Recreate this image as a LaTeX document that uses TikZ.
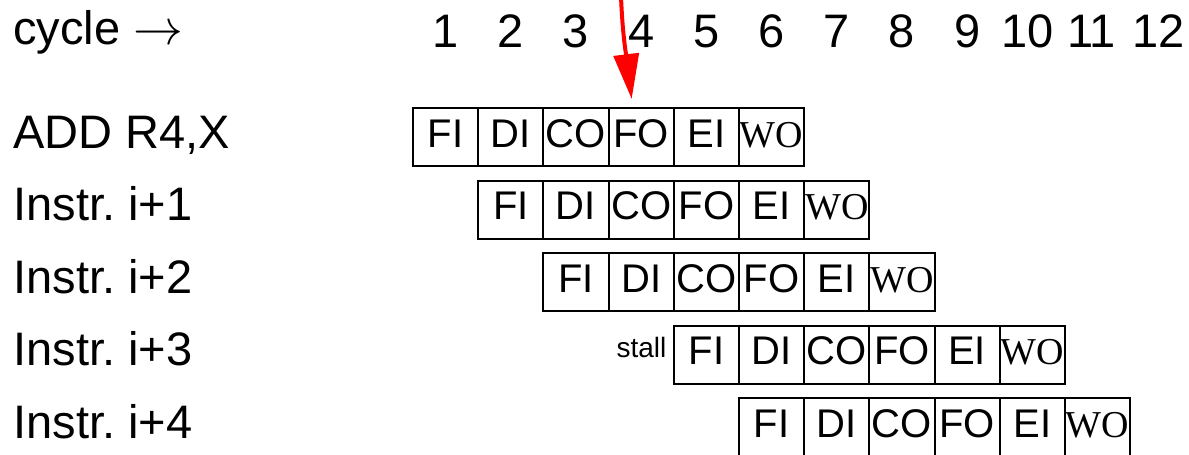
\documentclass[tikz,border=0pt]{standalone}
\usepackage{fontspec}
\setmainfont{Liberation Sans}
\newfontfamily\wofont{Liberation Serif}
\usetikzlibrary{arrows.meta,positioning}
\definecolor{ink}{HTML}{000000}
\definecolor{hazard}{HTML}{FF0000}
\newcommand\bigtext{\fontsize{23.5}{28}\selectfont}
\newcommand\cellfont{\fontsize{20}{24}\selectfont}
\frenchspacing
\tikzset{stage/.style={draw=ink,line width=1pt,minimum width=32.6pt,minimum height=29pt,inner sep=0pt,text height=12pt,text depth=2pt,font=\cellfont},
  rowlab/.style={anchor=base west,inner sep=0pt,font=\bigtext}}
\begin{document}
\begin{tikzpicture}[x=32.6pt,y=36.25pt,>=Latex]
\useasboundingbox (-6.334,-4.372) rectangle (11.902,1.890);
\node[rowlab] (cyc) at (-6.135,1.27) {cycle $\rightarrow$};
\foreach \k/\dx in {1/0,2/0,3/0,4/0,5/0,6/0,7/0,8/0,9/0,10/-2.5,11/-3,12/-2}{\node[anchor=base,inner sep=0pt,font=\bigtext] (n\k) at ([xshift=\dx pt]\k-0.5,1.241) {\k};}
\foreach \r/\off/\lab in {0/0/{ADD R4,X},1/1/{Instr. i+1},2/2/{Instr. i+2},3/4/{Instr. i+3},4/5/{Instr. i+4}}{
  \node[rowlab] (lab\r) at (-6.135,-\r-0.152) {\lab};
  \foreach \st [count=\c] in {FI,DI,CO,FO,EI,{\wofont\fontsize{19}{22}\selectfont WO}}{\node[stage] (r\r-\c) at (\off+\c-0.5,-\r) {\st};}
}
\node[anchor=base east,inner sep=0pt,font=\fontsize{14}{16}\selectfont] (stall) at ([xshift=-3pt,yshift=-1.25pt]r3-1.west) {stall};
% operand fetch waits on the ADD result
\coordinate (fault) at (3.19,1.959);
\draw[hazard,line width=2pt,-{Triangle[length=22.5pt,width=12.5pt]}] (fault) to[out=-88,in=97] ([xshift=-4.75pt,yshift=4pt]r0-4.north);
\end{tikzpicture}
\end{document}
